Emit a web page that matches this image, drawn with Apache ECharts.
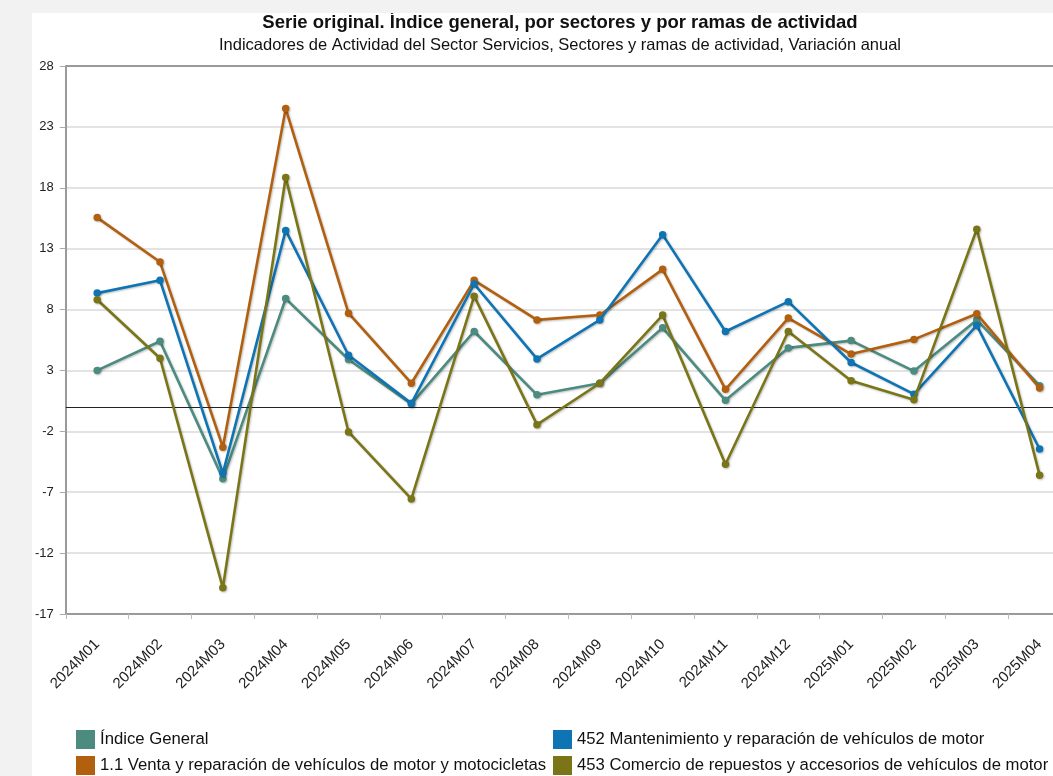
<!DOCTYPE html>
<html>
<head>
<meta charset="utf-8">
<script src="https://cdn.jsdelivr.net/npm/echarts@6/dist/echarts.min.js"></script>
<style>
html,body{margin:0;padding:0;background:#f2f2f2;overflow:hidden;width:1053px;height:776px;}
#chart{position:absolute;left:32px;top:13px;width:1056px;height:763px;background:#ffffff;}
</style>
</head>
<body>
<div id="chart"></div>
<script>
const categories = ["2024M01","2024M02","2024M03","2024M04","2024M05","2024M06","2024M07","2024M08","2024M09","2024M10","2024M11","2024M12","2025M01","2025M02","2025M03","2025M04"];
const seriesNames = [
  "Índice General",
  "1.1 Venta y reparación de vehículos de motor y motocicletas",
  "452 Mantenimiento y reparación de vehículos de motor",
  "453 Comercio de repuestos y accesorios de vehículos de motor"
];
const indiceGeneral = [3.0, 5.4, -5.9, 8.9, 3.9, 0.25, 6.2, 1.0, 1.95, 6.5, 0.55, 4.85, 5.45, 2.95, 7.15, 1.75];
const ventaReparacion = [15.55, 11.9, -3.3, 24.5, 7.7, 1.95, 10.4, 7.15, 7.55, 11.3, 1.45, 7.3, 4.35, 5.55, 7.65, 1.55];
const mantenimiento = [9.35, 10.4, -5.45, 14.5, 4.25, 0.3, 10.1, 3.95, 7.15, 14.15, 6.2, 8.65, 3.65, 1.05, 6.7, -3.45];
const repuestos = [8.8, 4.0, -14.85, 18.85, -2.05, -7.55, 9.1, -1.45, 1.95, 7.55, -4.7, 6.2, 2.15, 0.6, 14.6, -5.6];
const yTicks = [-17, -12, -7, -2, 3, 8, 13, 18, 23, 28];

const colors = ["#4b8b80", "#b2600f", "#0e74b4", "#7a7517"];
const allData = [indiceGeneral, ventaReparacion, mantenimiento, repuestos];
const FONT = 'Liberation Sans, Arial, sans-serif';

const chart = echarts.init(document.getElementById('chart'));

const series = allData.map((d, i) => ({
  name: seriesNames[i],
  type: 'line',
  data: d,
  symbol: 'circle',
  symbolSize: 7.5,
  z: 3 + i,
  lineStyle: {width: 2.6, color: colors[i], shadowColor: 'rgba(0,0,0,0.25)', shadowBlur: 2, shadowOffsetX: 1, shadowOffsetY: 1},
  itemStyle: {color: colors[i], shadowColor: 'rgba(0,0,0,0.25)', shadowBlur: 2, shadowOffsetX: 1, shadowOffsetY: 1},
  animation: false
}));
series[0].markLine = {
  silent: true,
  symbol: ['none', 'none'],
  label: {show: false},
  lineStyle: {color: '#222', width: 1, type: 'solid'},
  data: [
    {yAxis: 0},
    {yAxis: yTicks[yTicks.length - 1], lineStyle: {color: '#9a9a9a', width: 2, type: 'solid'}}
  ],
  animation: false
};

const legendText = {fontFamily: FONT, fontSize: 16.7, color: '#111'};
const legendPos = [[44, 717], [44, 743], [521, 717], [521, 743]];
const legends = seriesNames.map((n, i) => ({
  data: [n], orient: 'horizontal', left: legendPos[i][0], top: legendPos[i][1], padding: 0,
  itemWidth: 19, itemHeight: 19, icon: 'rect', textStyle: legendText, selectedMode: false
}));

chart.setOption({
  animation: false,
  title: [
    {text: "Serie original. Índice general, por sectores y por ramas de actividad", left: 'center', top: 0, padding: 0,
     textStyle: {fontFamily: FONT, fontSize: 18.5, fontWeight: 'bold', color: '#111'}},
    {text: "Indicadores de Actividad del Sector Servicios, Sectores y ramas de actividad, Variación anual", left: 'center', top: 24, padding: 0,
     textStyle: {fontFamily: FONT, fontSize: 16.5, fontWeight: 'normal', color: '#111'}}
  ],
  color: colors,
  grid: {left: 33, top: 53, right: 17, bottom: 162, containLabel: false},
  legend: legends,
  xAxis: {
    type: 'category',
    data: categories,
    boundaryGap: true,
    axisLine: {show: true, onZero: false, lineStyle: {color: '#9a9a9a', width: 2}},
    axisTick: {show: true, length: 5, lineStyle: {color: '#bbb'}},
    axisLabel: {rotate: 45, fontSize: 15, color: '#222', margin: 28, fontFamily: FONT, interval: 0},
    splitLine: {show: false}
  },
  yAxis: {
    type: 'value',
    min: -17,
    max: 28,
    interval: 5,
    axisLine: {show: true, lineStyle: {color: '#9a9a9a', width: 2}},
    axisTick: {show: true, length: 6, lineStyle: {color: '#aaa'}},
    axisLabel: {fontSize: 13, color: '#222', margin: 12, fontFamily: FONT},
    splitLine: {show: true, lineStyle: {color: '#dadada', width: 1.5}}
  },
  series: series
});
</script>
</body>
</html>
